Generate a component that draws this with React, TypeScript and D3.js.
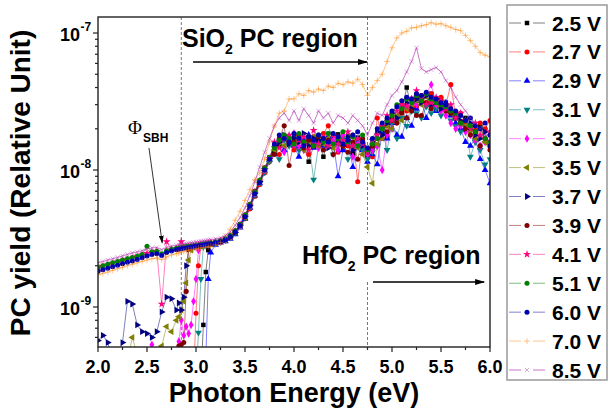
import React from 'react';
import * as d3 from 'd3';

// photon energy grid (eV), finer around the onset region
const energy = [
  2.0, 2.05, 2.1, 2.15, 2.2, 2.25, 2.3, 2.35, 2.4, 2.45, 2.5, 2.55, 2.6, 2.65, 2.7, 2.75,
  2.8, 2.825, 2.85, 2.875, 2.9, 2.925, 2.95, 2.975, 3.0, 3.025, 3.05, 3.075, 3.1, 3.125, 3.15,
  3.2, 3.25, 3.3, 3.35, 3.4, 3.45, 3.5, 3.55, 3.6, 3.65, 3.7, 3.75,
  3.8, 3.85, 3.9, 3.95, 4.0, 4.05, 4.1, 4.15, 4.2, 4.25,
  4.3, 4.35, 4.4, 4.45, 4.5, 4.55, 4.6, 4.65, 4.7, 4.75,
  4.8, 4.85, 4.9, 4.95, 5.0, 5.05, 5.1, 5.15, 5.2, 5.25,
  5.3, 5.35, 5.4, 5.45, 5.5, 5.55, 5.6, 5.65, 5.7, 5.75,
  5.8, 5.85, 5.9, 5.95, 6.0,
];

// PC yield, in units of 1e-9 (values under 0.51 fall below the axis)
const v25 = [
  0.3, 0.3, 0.3, 0.3, 0.3, 0.3, 0.3, 0.3, 0.3, 0.3, 0.3, 0.3, 0.3, 0.3, 0.3, 0.3,
  0.3, 0.3, 0.3, 0.3, 0.3, 0.3, 0.3, 0.3, 0.3, 0.3, 0.3, 0.74, 1.8, 2.6, 2.85,
  2.95, 3.0, 3.1, 3.25, 3.5, 3.9, 4.5, 5.4, 6.6, 8.0, 9.8, 11.8,
  13.5, 15.0, 16.8, 15.5, 17.5, 14.5, 16.0, 11.5, 15.0, 16.2,
  12.5, 17.0, 15.8, 18.2, 14.0, 16.5, 13.2, 17.2, 16.0, 12.6,
  14.5, 15.2, 19.0, 17.5, 24.0, 23.0, 27.0, 40.0, 28.0, 33.0,
  34.0, 30.0, 36.0, 28.0, 33.0, 31.0, 27.0, 26.0, 22.0, 24.0,
  20.0, 19.0, 21.0, 16.5, 15.0,
];
const v27 = [
  0.3, 0.3, 0.3, 0.3, 0.3, 0.3, 0.3, 0.3, 0.3, 0.3, 0.3, 0.3, 0.3, 0.3, 0.3, 0.3,
  0.3, 0.3, 0.3, 0.3, 0.3, 0.3, 0.3, 0.3, 0.9, 2.0, 2.75, 2.8, 2.84, 2.86, 2.9,
  2.9, 2.98, 3.05, 3.2, 3.45, 3.85, 4.4, 5.2, 6.4, 7.8, 9.5, 11.5,
  14.5, 13.0, 17.0, 16.0, 14.0, 18.0, 15.5, 13.0, 17.5, 15.0,
  18.5, 21.0, 16.0, 13.5, 17.0, 15.0, 18.0, 8.2, 16.5, 14.0,
  12.5, 24.0, 17.0, 21.0, 26.0, 22.0, 30.0, 27.0, 33.0, 29.0,
  35.0, 31.0, 36.0, 29.0, 34.0, 30.0, 42.0, 25.0, 26.0, 22.0,
  21.0, 19.5, 22.0, 20.0, 23.0,
];
const v29 = [
  0.3, 0.3, 0.3, 0.3, 0.3, 0.3, 0.3, 0.3, 0.3, 0.3, 0.3, 0.3, 0.3, 0.3, 0.3, 0.3,
  0.3, 0.3, 0.3, 0.3, 0.3, 0.3, 0.3, 0.3, 0.3, 0.3, 0.3, 0.3, 0.42, 1.6, 2.5,
  2.85, 2.95, 3.02, 3.15, 3.4, 3.8, 4.4, 5.3, 6.5, 8.0, 9.8, 11.8,
  13.0, 16.5, 14.0, 17.5, 15.0, 12.5, 16.5, 18.0, 14.5, 16.0,
  15.0, 17.5, 16.0, 9.0, 14.0, 17.0, 10.5, 15.5, 14.0, 11.5,
  13.0, 11.0, 19.0, 17.0, 22.0, 18.0, 17.5, 24.0, 21.0, 28.0,
  32.0, 24.0, 30.0, 27.0, 29.0, 31.0, 25.0, 22.0, 20.0, 16.0,
  15.0, 17.0, 12.0, 10.0, 8.0,
];
const v31 = [
  0.3, 0.3, 0.3, 0.3, 0.3, 0.3, 0.3, 0.3, 0.3, 0.3, 0.3, 0.3, 0.3, 0.3, 0.3, 0.3,
  0.3, 0.3, 0.3, 0.3, 0.3, 0.3, 0.3, 0.3, 0.3, 0.65, 1.6, 2.75, 2.82, 2.86, 2.9,
  2.9, 2.98, 3.08, 3.22, 3.5, 3.9, 4.5, 5.4, 6.6, 8.0, 9.6, 11.5,
  14.5, 12.0, 16.5, 15.0, 17.0, 14.0, 15.5, 16.5, 8.5, 15.0,
  16.0, 18.5, 13.0, 15.5, 17.0, 12.0, 15.0, 16.5, 14.0, 12.0,
  13.5, 15.0, 20.0, 14.0, 22.0, 17.0, 24.0, 21.0, 27.0, 26.0,
  24.0, 29.0, 26.0, 28.0, 25.0, 27.0, 23.0, 21.0, 19.0, 21.0,
  12.5, 16.0, 14.0, 11.0, 12.0,
];
const v33 = [
  0.3, 0.3, 0.3, 0.3, 0.3, 0.3, 0.3, 0.3, 0.3, 0.3, 0.3, 0.53, 0.3, 0.3, 0.3, 0.3,
  0.45, 0.56, 0.8, 0.62, 0.72, 0.64, 0.74, 1.1, 1.6, 2.6, 2.84, 2.86, 2.88, 2.9, 2.92,
  2.95, 3.02, 3.1, 3.28, 3.55, 3.95, 4.6, 5.5, 6.8, 8.2, 10.0, 12.0,
  15.0, 17.0, 13.5, 16.0, 18.5, 15.0, 14.0, 17.0, 16.0, 14.5,
  17.0, 15.5, 16.5, 14.0, 18.0, 16.0, 12.5, 15.5, 16.0, 13.0,
  14.0, 15.0, 10.0, 18.0, 20.0, 24.0, 28.0, 30.0, 33.0, 30.0,
  34.0, 36.0, 42.0, 30.0, 27.0, 25.0, 22.0, 20.0, 21.0, 19.0,
  18.0, 16.5, 15.0, 16.0, 14.5,
];
const v35 = [
  0.3, 0.3, 0.3, 0.3, 0.3, 0.3, 0.4, 0.6, 0.45, 0.3, 0.3, 0.3, 0.4, 0.52, 0.72, 0.66,
  0.8, 0.85, 0.95, 1.1, 1.5, 2.2, 2.6, 2.72, 2.76, 2.78, 2.8, 2.82, 2.84, 2.86, 2.88,
  2.92, 2.98, 3.08, 3.22, 3.5, 3.9, 4.5, 5.4, 6.7, 8.1, 9.9, 11.9,
  14.0, 16.0, 15.0, 17.0, 15.5, 16.5, 14.0, 16.0, 17.5, 15.0,
  15.5, 17.0, 14.5, 16.5, 15.0, 17.5, 16.0, 14.5, 13.0, 10.5,
  8.0, 15.5, 17.0, 21.0, 20.0, 25.0, 23.0, 28.0, 29.0, 32.0,
  30.0, 34.0, 32.0, 31.0, 29.0, 28.0, 26.0, 24.0, 22.0, 21.0,
  19.0, 17.0, 20.0, 16.0, 15.0,
];
const v37 = [
  0.57, 0.62, 0.55, 0.4, 0.45, 0.55, 1.1, 1.05, 0.74, 0.66, 0.64, 0.6, 0.66, 0.92, 1.18, 1.15,
  0.95, 1.07, 0.95, 1.18, 2.0, 2.65, 2.72, 2.74, 2.76, 2.78, 2.8, 2.82, 2.84, 2.86, 2.88,
  2.95, 3.0, 3.1, 3.25, 3.5, 3.95, 4.6, 5.5, 6.8, 8.2, 10.2, 12.2,
  15.0, 16.0, 18.0, 15.5, 17.0, 16.0, 18.5, 15.0, 17.0, 16.5,
  16.0, 14.5, 18.0, 16.0, 15.0, 17.5, 14.0, 17.0, 15.0, 14.0,
  16.0, 19.0, 18.0, 22.0, 26.0, 24.0, 29.0, 31.0, 28.0, 33.0,
  31.0, 35.0, 30.0, 33.0, 28.0, 30.0, 26.0, 24.0, 23.0, 20.0,
  22.0, 18.0, 17.0, 19.0, 15.0,
];
const v39 = [
  0.3, 0.3, 0.3, 0.3, 0.3, 0.3, 0.3, 0.3, 0.3, 0.3, 0.3, 0.3, 0.3, 0.3, 0.3, 0.3,
  0.3, 0.52, 0.53, 0.55, 1.3, 2.65, 2.72, 2.76, 2.8, 2.82, 2.84, 2.86, 2.88, 2.9, 2.93,
  2.95, 3.02, 3.12, 3.3, 3.6, 4.0, 4.7, 5.6, 7.0, 8.4, 10.4, 12.4,
  13.0, 17.0, 21.0, 10.8, 16.0, 18.0, 14.5, 16.5, 15.0, 17.5,
  14.0, 16.5, 13.0, 17.5, 15.0, 13.5, 16.0, 12.0, 17.0, 13.5,
  15.0, 17.0, 21.0, 19.0, 23.0, 22.0, 26.0, 24.0, 27.0, 25.0,
  25.0, 31.0, 28.0, 32.0, 30.0, 27.0, 26.0, 24.0, 22.0, 20.0,
  18.0, 19.0, 15.0, 17.0, 14.0,
];
const v41 = [
  1.93, 1.98, 2.03, 2.08, 2.13, 2.18, 2.23, 2.28, 2.33, 2.4, 2.47, 2.52, 2.55, 1.05, 3.0, 2.64,
  2.68, 2.7, 3.0, 2.74, 2.76, 2.77, 2.79, 2.8, 2.82, 2.84, 2.86, 2.88, 2.9, 2.92, 2.94,
  2.98, 3.04, 3.14, 3.3, 3.58, 4.0, 4.65, 5.55, 6.9, 8.3, 10.1, 12.1,
  16.0, 14.5, 17.0, 18.0, 15.0, 16.5, 17.5, 14.0, 19.5, 15.5,
  17.5, 15.0, 18.0, 15.5, 16.5, 19.0, 15.0, 17.0, 15.5, 13.5,
  16.5, 18.0, 21.0, 25.0, 23.0, 27.0, 30.0, 29.0, 32.0, 38.0,
  34.0, 30.0, 31.0, 34.0, 32.0, 28.0, 30.0, 24.0, 26.0, 23.0,
  20.0, 22.0, 18.0, 17.0, 19.0,
];
const v51 = [
  1.95, 2.0, 2.05, 2.1, 2.15, 2.2, 2.25, 2.3, 2.35, 2.42, 2.78, 2.52, 2.55, 2.45, 2.57, 2.64,
  2.68, 2.7, 2.72, 2.74, 2.76, 2.77, 2.79, 2.8, 2.82, 2.84, 2.86, 2.88, 2.9, 2.92, 2.94,
  2.98, 3.04, 3.15, 3.32, 3.6, 4.0, 4.7, 5.6, 6.9, 8.4, 10.3, 12.3,
  14.5, 16.5, 18.0, 17.0, 15.5, 18.5, 16.0, 17.5, 15.0, 18.0,
  16.0, 18.5, 15.5, 17.0, 19.0, 16.0, 17.5, 15.0, 18.0, 14.0,
  15.5, 17.0, 20.0, 23.0, 25.0, 30.0, 28.0, 33.0, 31.0, 35.0,
  32.0, 36.0, 33.0, 31.0, 30.0, 29.0, 27.0, 26.0, 22.0, 23.0,
  21.0, 19.0, 20.0, 17.0, 16.0,
];
const v60 = [
  1.82, 1.87, 1.92, 1.97, 2.02, 2.07, 2.12, 2.17, 2.22, 2.29, 2.36, 2.42, 2.45, 2.38, 2.5, 2.56,
  2.62, 2.64, 2.66, 2.68, 2.7, 2.72, 2.74, 2.76, 2.78, 2.8, 2.82, 2.84, 2.86, 2.88, 2.9,
  2.94, 3.0, 3.1, 3.26, 3.52, 3.92, 4.55, 5.45, 6.7, 8.1, 10.0, 12.0,
  15.5, 18.0, 17.0, 16.0, 18.5, 17.0, 15.0, 17.5, 16.5, 18.0,
  17.0, 16.0, 18.5, 17.5, 15.5, 16.5, 18.0, 19.0, 16.0, 14.5,
  17.0, 20.0, 22.0, 24.0, 27.0, 29.0, 32.0, 34.0, 33.0, 36.0,
  35.0, 37.0, 34.0, 33.0, 31.0, 30.0, 28.0, 27.0, 25.0, 23.0,
  24.0, 21.0, 20.0, 22.0, 18.0,
];
const v70 = [
  1.72, 1.76, 1.8, 1.85, 1.9, 1.95, 2.0, 2.05, 2.1, 2.15, 2.2, 2.25, 2.28, 2.22, 2.32, 2.4,
  2.45, 2.48, 2.52, 2.55, 2.58, 2.6, 2.62, 2.64, 2.66, 2.68, 2.7, 2.72, 2.74, 2.76, 2.78,
  2.85, 2.95, 3.3, 3.7, 4.3, 5.0, 6.0, 7.2, 8.5, 9.5, 12.0, 16.0,
  21.0, 26.0, 27.0, 33.0, 33.0, 36.0, 35.0, 38.0, 37.0, 39.0,
  38.0, 41.0, 40.0, 43.0, 42.0, 44.0, 43.0, 46.0, 42.0, 35.0,
  40.0, 45.0, 50.0, 62.0, 78.0, 92.0, 100.0, 103.0, 109.0, 110.0,
  113.0, 115.0, 119.0, 116.0, 117.0, 113.0, 110.0, 106.0, 104.0, 96.0,
  88.0, 80.0, 72.0, 69.0, 67.0,
];
const v85 = [
  2.1, 2.15, 2.2, 2.25, 2.3, 2.36, 2.42, 2.48, 2.52, 2.58, 2.65, 2.7, 2.72, 2.62, 2.72, 2.78,
  2.82, 2.84, 2.86, 2.88, 2.9, 2.92, 2.94, 2.96, 2.98, 3.0, 3.02, 3.04, 3.06, 3.08, 3.1,
  3.14, 3.2, 3.32, 3.55, 3.95, 4.5, 5.3, 6.5, 8.2, 10.5, 13.5, 17.0,
  21.0, 24.0, 26.0, 23.0, 27.0, 23.0, 28.0, 25.0, 22.0, 27.0,
  24.0, 26.0, 22.0, 25.0, 24.0, 22.0, 25.0, 23.0, 21.0, 18.0,
  22.0, 26.0, 25.0, 30.0, 35.0, 38.0, 44.0, 52.0, 62.0, 78.0,
  55.0, 52.0, 54.0, 56.0, 52.0, 45.0, 40.0, 34.0, 30.0, 27.0,
  24.0, 22.0, 20.0, 18.0, 16.0,
];

const labels = ['2.5 V', '2.7 V', '2.9 V', '3.1 V', '3.3 V', '3.5 V', '3.7 V', '3.9 V', '4.1 V', '5.1 V', '6.0 V', '7.0 V', '8.5 V'];
const values = [v25, v27, v29, v31, v33, v35, v37, v39, v41, v51, v60, v70, v85];
const colors = ['#000000', '#FF0000', '#0000FF', '#008080', '#FF00FF', '#808000', '#000080', '#800000', '#FF0080', '#008000', '#0000B0', '#FF8000', '#B030B0'];
// line opacity per series (the last two are drawn paler in the original)
const lineAlpha = [0.5, 0.5, 0.5, 0.5, 0.5, 0.5, 0.5, 0.5, 0.5, 0.5, 0.5, 0.45, 0.65];

const xTicks = [2.0, 2.5, 3.0, 3.5, 4.0, 4.5, 5.0, 5.5, 6.0];
const xMinor = [2.25, 2.75, 3.25, 3.75, 4.25, 4.75, 5.25, 5.75];
const yTicks = [1, 10, 100];
const yExp = ['-9', '-8', '-7'];
const yMinor = [0.6, 0.7, 0.8, 0.9, 2, 3, 4, 5, 6, 7, 8, 9, 20, 30, 40, 50, 60, 70, 80, 90];

// marker shape per series: [symbol, rotation, stroked]
const symTimes = (d3 as any).symbolTimes || d3.symbolCross;
const symPlus = (d3 as any).symbolPlus || d3.symbolCross;
const markers: [d3.SymbolType, number, boolean][] = [
  [d3.symbolSquare, 0, false],
  [d3.symbolCircle, 0, false],
  [d3.symbolTriangle, 0, false],
  [d3.symbolTriangle, 180, false],
  [d3.symbolDiamond, 0, false],
  [d3.symbolTriangle, -90, false],
  [d3.symbolTriangle, 90, false],
  [d3.symbolCircle, 0, false],
  [d3.symbolStar, 0, false],
  [d3.symbolCircle, 0, false],
  [d3.symbolCircle, 0, false],
  [symPlus, 0, true],
  [symTimes, 0, true],
];

const FONT = "'Liberation Sans', Arial, Helvetica, sans-serif";

const left = 98, right = 490, top = 17, bottom = 347;

function App() {
  const x = d3.scaleLinear().domain([2, 6]).range([left, right]);
  const y = d3.scaleLog().domain([0.5105, 130.9]).range([bottom, top]);

  const line = d3.line<number>()
    .x((_, i) => x(energy[i]))
    .y((d) => y(d));

  const legendY = d3.scalePoint<string>().domain(labels).range([23, 370]);

  const symPath = (k: number) => d3.symbol(markers[k][0], markers[k][2] ? 14 : 20)() || '';

  const drawMarker = (k: number, cx: number, cy: number, key: string) => {
    const [, rot, stroked] = markers[k];
    return (
      <path
        key={key}
        d={symPath(k)}
        transform={`translate(${cx},${cy}) rotate(${rot})`}
        fill={stroked ? 'none' : colors[k]}
        stroke={stroked ? colors[k] : 'none'}
        strokeWidth={stroked ? 0.8 : 0}
        strokeOpacity={stroked ? 0.55 : 1}
      />
    );
  };

  const gapTop = 233, gapBottom = 282;

  return (
    <div style={{ position: 'absolute', left: 0, top: 0 }}>
      <svg width={609} height={415} style={{ display: 'block', background: '#fff' }} fontFamily={FONT}>
        <defs>
          <clipPath id="plotClip">
            <rect x={left} y={top} width={right - left} height={bottom - top} />
          </clipPath>
          <marker id="arrowBig" markerWidth={10} markerHeight={6} refX={9} refY={3} orient="auto" markerUnits="userSpaceOnUse">
            <path d="M0,0 L10,3 L0,6 z" fill="#000" />
          </marker>
          <marker id="arrowSmall" markerWidth={8} markerHeight={5} refX={7} refY={2.5} orient="auto" markerUnits="userSpaceOnUse">
            <path d="M0,0 L8,2.5 L0,5 z" fill="#000" />
          </marker>
        </defs>

        {/* dashed region dividers */}
        <line x1={x(2.85)} x2={x(2.85)} y1={top} y2={bottom} stroke="#555" strokeWidth={0.8} strokeDasharray="3,2" />
        <line x1={x(4.75)} x2={x(4.75)} y1={top} y2={gapTop} stroke="#555" strokeWidth={0.8} strokeDasharray="3,2" />
        <line x1={x(4.75)} x2={x(4.75)} y1={gapBottom} y2={bottom} stroke="#555" strokeWidth={0.8} strokeDasharray="3,2" />

        {/* series */}
        <g clipPath="url(#plotClip)">
          {values.map((vals, k) => (
            <path key={'l' + k} d={line(vals) || ''} fill="none" stroke={colors[k]} strokeOpacity={lineAlpha[k]} strokeWidth={1} />
          ))}
          {values.map((vals, k) => (
            <g key={'m' + k}>
              {vals.map((v, i) => drawMarker(k, x(energy[i]), y(v), k + '-' + i))}
            </g>
          ))}
        </g>

        {/* frame */}
        <rect x={left} y={top} width={right - left} height={bottom - top} fill="none" stroke="#222" strokeWidth={1.4} />

        {/* x axis */}
        {xTicks.map((t) => (
          <g key={'xt' + t}>
            <line x1={x(t)} x2={x(t)} y1={bottom} y2={bottom + 5} stroke="#222" strokeWidth={1.2} />
            <text x={x(t)} y={373} textAnchor="middle" fontSize={18} fontWeight="bold">{t.toFixed(1)}</text>
          </g>
        ))}
        {xMinor.map((t) => (
          <line key={'xm' + t} x1={x(t)} x2={x(t)} y1={bottom} y2={bottom + 3} stroke="#222" strokeWidth={1.2} />
        ))}
        <text x={(left + right) / 2} y={402} textAnchor="middle" fontSize={27} fontWeight="bold">Photon Energy (eV)</text>

        {/* y axis */}
        {yTicks.map((t, i) => (
          <g key={'yt' + t}>
            <line x1={left - 5} x2={left} y1={y(t)} y2={y(t)} stroke="#222" strokeWidth={1.2} />
            <text x={80} y={y(t) + 8} textAnchor="end" fontSize={18} fontWeight="bold">10</text>
            <text x={80.5} y={y(t) - 2} fontSize={12} fontWeight="bold">{yExp[i]}</text>
          </g>
        ))}
        {yMinor.map((t) => (
          <line key={'ym' + t} x1={left - 3} x2={left} y1={y(t)} y2={y(t)} stroke="#222" strokeWidth={1.2} />
        ))}
        <text transform={`translate(30,${(top + bottom) / 2 + 1}) rotate(-90)`} textAnchor="middle" fontSize={28} fontWeight="bold">
          PC yield (Relative Unit)
        </text>

        {/* annotations */}
        <text x={182} y={47} fontSize={25} fontWeight="bold">
          SiO<tspan fontSize={14} dy={7}>2</tspan><tspan dy={-7}> PC region</tspan>
        </text>
        <line x1={x(2.97)} x2={x(4.745)} y1={62} y2={62} stroke="#000" strokeWidth={1.3} markerEnd="url(#arrowBig)" />

        <text x={302} y={264} fontSize={25} fontWeight="bold">
          HfO<tspan fontSize={14} dy={7}>2</tspan><tspan dy={-7}> PC region</tspan>
        </text>
        <line x1={x(4.806)} x2={x(5.94)} y1={282} y2={282} stroke="#000" strokeWidth={1.3} markerEnd="url(#arrowBig)" />

        <text x={128} y={134} fontSize={19} fontFamily="'Liberation Serif', 'Times New Roman', serif">Φ</text>
        <text x={143} y={142} fontSize={12} fontWeight="bold">SBH</text>
        <line x1={x(2.52)} y1={y(14.5)} x2={x(2.655)} y2={y(2.95)} stroke="#000" strokeWidth={0.8} markerEnd="url(#arrowSmall)" />

        {/* legend */}
        <rect x={507} y={5} width={100} height={375} fill="#fff" stroke="#999" strokeWidth={1.5} />
        {labels.map((lab, k) => {
          const ly = legendY(lab) as number;
          return (
            <g key={'lg' + k}>
              <line x1={509} x2={521} y1={ly} y2={ly} stroke={colors[k]} strokeOpacity={lineAlpha[k]} strokeWidth={1} />
              <line x1={533} x2={545} y1={ly} y2={ly} stroke={colors[k]} strokeOpacity={lineAlpha[k]} strokeWidth={1} />
              {drawMarker(k, 527, ly, 'lm' + k)}
              <text x={552} y={ly + 7.5} fontSize={21} fontWeight="bold">{lab}</text>
            </g>
          );
        })}
      </svg>
    </div>
  );
}

export default App;
